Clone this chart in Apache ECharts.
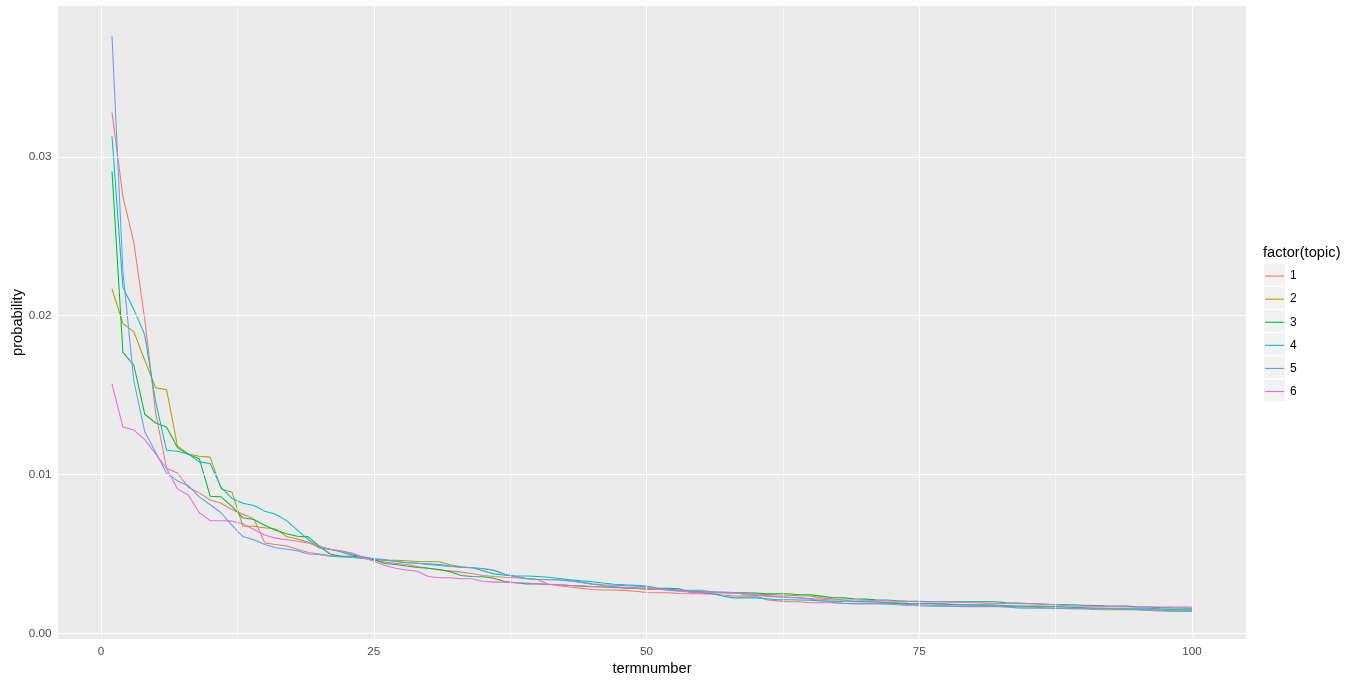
<!DOCTYPE html>
<html>
<head>
<meta charset="utf-8">
<script src="https://cdn.jsdelivr.net/npm/echarts@6/dist/echarts.min.js"></script>
<style>
html,body{margin:0;padding:0;background:#fff;}
#chart{width:1366px;height:685px;}
</style>
</head>
<body>
<div id="chart"></div>
<script>
// ---- data ----
const termnumber = [1,2,3,4,5,6,7,8,9,10,11,12,13,14,15,16,17,18,19,20,
  21,22,23,24,25,26,27,28,29,30,31,32,33,34,35,36,37,38,39,40,
  41,42,43,44,45,46,47,48,49,50,51,52,53,54,55,56,57,58,59,60,
  61,62,63,64,65,66,67,68,69,70,71,72,73,74,75,76,77,78,79,80,
  81,82,83,84,85,86,87,88,89,90,91,92,93,94,95,96,97,98,99,100];

const topics = ['1','2','3','4','5','6'];
const topicColors = ['#F8766D','#B79F00','#00BA38','#00BFC4','#619CFF','#F564E3'];

const topic1 = [0.0328,0.0275,0.0246,0.0198,0.0139,0.0104,0.0101,0.0092,0.00885,0.0084,
 0.0082,0.0078,0.0075,0.0072,0.0057,0.0056,0.0055,0.0053,0.0051,0.0050,
 0.0049,0.00486,0.00478,0.00472,0.00463,0.00449,0.00442,0.00434,0.00421,0.00411,
 0.0040,0.00394,0.00386,0.00377,0.00365,0.00359,0.00354,0.0035,0.00346,0.0034,
 0.0031,0.0030,0.00292,0.00285,0.00277,0.00273,0.00273,0.00271,0.00266,0.00258,
 0.00256,0.00256,0.00252,0.0025,0.0025,0.00249,0.00242,0.00236,0.00235,0.00235,
 0.00212,0.00205,0.0020,0.00199,0.00193,0.00193,0.00193,0.00188,0.00187,0.00187,
 0.00187,0.00187,0.00186,0.00183,0.0018,0.00178,0.00175,0.00172,0.00168,0.00168,
 0.00168,0.00168,0.00168,0.00168,0.00168,0.00168,0.00168,0.00167,0.00165,0.00162,
 0.0016,0.00158,0.00155,0.00152,0.0015,0.00145,0.00141,0.0014,0.0014,0.0014];

const topic2 = [0.0217,0.0195,0.0190,0.0172,0.01547,0.01535,0.0118,0.0113,0.01115,0.0111,
 0.0091,0.0089,0.00675,0.00675,0.00665,0.00658,0.0061,0.00595,0.00574,0.0054,
 0.00528,0.0052,0.00501,0.0048,0.00466,0.00461,0.00461,0.00457,0.00453,0.00453,
 0.00451,0.00432,0.00419,0.00413,0.00407,0.00396,0.00373,0.00359,0.00346,0.0034,
 0.0034,0.00338,0.00331,0.00321,0.0031,0.00302,0.00294,0.00287,0.00283,0.00277,
 0.00277,0.00275,0.00268,0.00268,0.00263,0.00262,0.00258,0.00254,0.0025,0.00248,
 0.00245,0.00242,0.0024,0.00237,0.00236,0.00224,0.00218,0.0021,0.00203,0.00199,
 0.00198,0.00196,0.00193,0.0019,0.00189,0.00188,0.00186,0.00183,0.0018,0.00178,
 0.00176,0.00174,0.0017,0.00168,0.00166,0.00163,0.0016,0.00157,0.00155,0.00155,
 0.00151,0.00149,0.00149,0.00149,0.00149,0.00149,0.00148,0.00148,0.00148,0.00148];

const topic3 = [0.0291,0.0177,0.0169,0.0138,0.01325,0.0130,0.0117,0.01126,0.0110,0.00864,
 0.0086,0.0080,0.00728,0.00717,0.00681,0.0065,0.00627,0.00612,0.00608,0.00549,
 0.0050,0.00486,0.00486,0.0048,0.00466,0.0044,0.00434,0.00424,0.00415,0.00411,
 0.00403,0.00388,0.00365,0.00359,0.00357,0.00348,0.00327,0.00319,0.00312,0.00312,
 0.00308,0.00306,0.00302,0.00298,0.00294,0.00292,0.0029,0.00287,0.00286,0.00285,
 0.00285,0.00284,0.00281,0.0026,0.0026,0.00256,0.00256,0.00256,0.00256,0.00254,
 0.0025,0.0025,0.0025,0.00243,0.00243,0.00235,0.00226,0.00224,0.00218,0.00216,
 0.00212,0.0021,0.00206,0.00203,0.00202,0.002,0.002,0.00199,0.00199,0.00199,
 0.00199,0.00199,0.00193,0.00191,0.00188,0.00185,0.00182,0.0018,0.0018,0.00178,
 0.00176,0.00174,0.00173,0.00172,0.00168,0.00166,0.00163,0.00161,0.0016,0.00159];

const topic4 = [0.0313,0.0218,0.0204,0.0188,0.0146,0.01153,0.01147,0.0113,0.0108,0.0107,
 0.0092,0.0085,0.0082,0.00805,0.0077,0.0075,0.0071,0.0065,0.0059,0.0054,
 0.0053,0.00512,0.00493,0.00482,0.0047,0.00461,0.00455,0.00445,0.00442,0.00438,
 0.00434,0.00424,0.00417,0.00413,0.00395,0.00375,0.00366,0.00361,0.00361,0.00359,
 0.00354,0.00346,0.00338,0.00331,0.00325,0.00317,0.0031,0.00306,0.00304,0.00298,
 0.00285,0.0028,0.00272,0.00262,0.00256,0.0025,0.00235,0.00224,0.00224,0.00224,
 0.00218,0.00212,0.00212,0.00211,0.00209,0.00205,0.00203,0.00201,0.002,0.00199,
 0.00199,0.00193,0.00189,0.00188,0.00187,0.00187,0.00186,0.00182,0.0018,0.0018,
 0.0018,0.00179,0.00176,0.00173,0.00172,0.00172,0.00171,0.00168,0.00165,0.00162,
 0.00159,0.00159,0.00159,0.00159,0.00158,0.00158,0.00156,0.00151,0.00149,0.00147];

const topic5 = [0.0376,0.0228,0.0159,0.0127,0.0114,0.0101,0.0096,0.0093,0.0086,0.0081,
 0.0076,0.0068,0.0061,0.0059,0.0056,0.0054,0.0053,0.0052,0.0050,0.00497,
 0.00486,0.00482,0.0048,0.00474,0.0047,0.00466,0.00453,0.00447,0.00442,0.00434,
 0.00428,0.00421,0.00417,0.00413,0.00409,0.004,0.00373,0.00357,0.00344,0.0034,
 0.00338,0.00336,0.00331,0.00323,0.00312,0.00306,0.00304,0.00302,0.00298,0.00294,
 0.00281,0.00276,0.00272,0.00272,0.00272,0.00262,0.0026,0.00258,0.00245,0.00239,
 0.00235,0.0023,0.00226,0.00224,0.00215,0.00208,0.00197,0.0019,0.00187,0.00187,
 0.00187,0.00186,0.0018,0.00176,0.00174,0.00172,0.00172,0.00172,0.00172,0.00172,
 0.00171,0.00171,0.00166,0.00161,0.00159,0.00159,0.00159,0.00157,0.00155,0.00155,
 0.00155,0.00155,0.00155,0.00153,0.00152,0.0015,0.00147,0.00142,0.0014,0.0014];

const topic6 = [0.0157,0.0130,0.0128,0.0122,0.0113,0.0104,0.0091,0.0087,0.0076,0.0071,
 0.0071,0.00707,0.0069,0.00654,0.0062,0.0060,0.0059,0.0058,0.0057,0.0055,
 0.0053,0.00518,0.00507,0.0048,0.00455,0.00428,0.00411,0.004,0.00392,0.00359,
 0.0035,0.0035,0.00344,0.00344,0.00327,0.00323,0.00323,0.00319,0.00317,0.00313,
 0.0031,0.00306,0.00302,0.003,0.00296,0.00294,0.00292,0.0029,0.00287,0.00285,
 0.0028,0.00272,0.00265,0.0026,0.00259,0.00257,0.00256,0.00255,0.0025,0.00244,
 0.00238,0.00232,0.0023,0.00225,0.0022,0.00215,0.0021,0.0021,0.0021,0.00209,
 0.00208,0.00205,0.00203,0.00201,0.002,0.002,0.00199,0.00197,0.00195,0.00193,
 0.00191,0.00189,0.00188,0.00187,0.00187,0.00186,0.00182,0.00177,0.00173,0.00172,
 0.00171,0.0017,0.00169,0.00168,0.00167,0.00167,0.00167,0.00166,0.00166,0.00166];

const xTicks = [0,25,50,75,100];
const xMinor = [12.5,37.5,62.5,87.5];
const yTicks = [0,0.01,0.02,0.03];
const yMinor = [0.005,0.015,0.025,0.035];

// ---- chart ----
const FONT = '"Liberation Sans", Arial, sans-serif';
const allTopics = [topic1, topic2, topic3, topic4, topic5, topic6];

const lineSeries = allTopics.map((vals, i) => ({
  name: topics[i],
  type: 'line',
  data: termnumber.map((t, j) => [t, vals[j]]),
  showSymbol: false,
  symbol: 'none',
  lineStyle: { width: 1.05, color: topicColors[i] },
  itemStyle: { color: topicColors[i] },
  emphasis: { disabled: true },
  animation: false,
  z: 3
}));

const gridLines = [];
xTicks.forEach(v => gridLines.push({ xAxis: v, lineStyle: { width: 1.1 } }));
xMinor.forEach(v => gridLines.push({ xAxis: v, lineStyle: { width: 0.55 } }));
yTicks.forEach(v => gridLines.push({ yAxis: v, lineStyle: { width: 1.1 } }));
yMinor.forEach(v => gridLines.push({ yAxis: v, lineStyle: { width: 0.55 } }));

const gridSeries = {
  type: 'line',
  name: '__grid',
  data: [],
  silent: true,
  animation: false,
  z: 1,
  markLine: {
    silent: true,
    animation: false,
    symbol: ['none', 'none'],
    label: { show: false },
    emphasis: { disabled: true },
    lineStyle: { color: '#FFFFFF', type: 'solid', width: 1.1 },
    data: gridLines
  }
};

const legendTop = 264.5;
const legendPitch = 23.1;
const keyRects = topics.map((t, i) => ({
  type: 'rect',
  z: 0,
  shape: { x: 1264, y: 264 + i * legendPitch, width: 21, height: 21.6 },
  style: { fill: '#F2F2F2' },
  silent: true
}));

const option = {
  backgroundColor: '#FFFFFF',
  animation: false,
  textStyle: { fontFamily: FONT },
  title: {
    text: 'factor(topic)',
    left: 1263,
    top: 245,
    padding: 0,
    textStyle: { fontFamily: FONT, fontSize: 14.7, fontWeight: 'normal', color: '#000000' }
  },
  legend: {
    data: topics.map(t => ({ name: t, icon: 'rect' })),
    orient: 'vertical',
    left: 1265,
    top: legendTop,
    padding: 0,
    itemWidth: 19,
    itemHeight: 1.1,
    itemGap: 0,
    selectedMode: false,
    z: 5,
    textStyle: { fontFamily: FONT, fontSize: 12, color: '#000000', lineHeight: legendPitch, height: legendPitch, padding: [0, 0, 0, 1] }
  },
  graphic: keyRects,
  grid: {
    left: 58,
    right: 120,
    top: 6,
    bottom: 46,
    show: true,
    backgroundColor: '#EBEBEB',
    borderWidth: 0,
    containLabel: false,
    outerBoundsMode: 'none'
  },
  xAxis: {
    type: 'value',
    min: -3.95,
    max: 104.95,
    name: 'termnumber',
    nameLocation: 'middle',
    nameGap: 22,
    nameMoveOverlap: false,
    nameTextStyle: { fontFamily: FONT, fontSize: 14.7, color: '#000000', verticalAlign: 'top' },
    axisLine: { show: false },
    splitLine: { show: false },
    axisTick: { show: true, length: 3.7, inside: false, customValues: xTicks, lineStyle: { color: '#333333', width: 1 } },
    axisLabel: {
      customValues: xTicks,
      margin: 6.5,
      fontFamily: FONT, fontSize: 11.7, color: '#4D4D4D',
      formatter: v => String(v)
    }
  },
  yAxis: {
    type: 'value',
    min: -0.00035,
    max: 0.0395,
    name: 'probability',
    nameLocation: 'middle',
    nameGap: 32.5,
    nameMoveOverlap: false,
    nameRotate: 90,
    nameTextStyle: { fontFamily: FONT, fontSize: 14.7, color: '#000000', verticalAlign: 'bottom' },
    axisLine: { show: false },
    splitLine: { show: false },
    axisTick: { show: true, length: 3.7, inside: false, customValues: yTicks, lineStyle: { color: '#333333', width: 1 } },
    axisLabel: {
      customValues: yTicks,
      margin: 6.5,
      fontFamily: FONT, fontSize: 11.7, color: '#4D4D4D',
      formatter: v => v.toFixed(2)
    }
  },
  series: [gridSeries].concat(lineSeries)
};

const chart = echarts.init(document.getElementById('chart'), null, { renderer: 'canvas' });
chart.setOption(option);
</script>
</body>
</html>
